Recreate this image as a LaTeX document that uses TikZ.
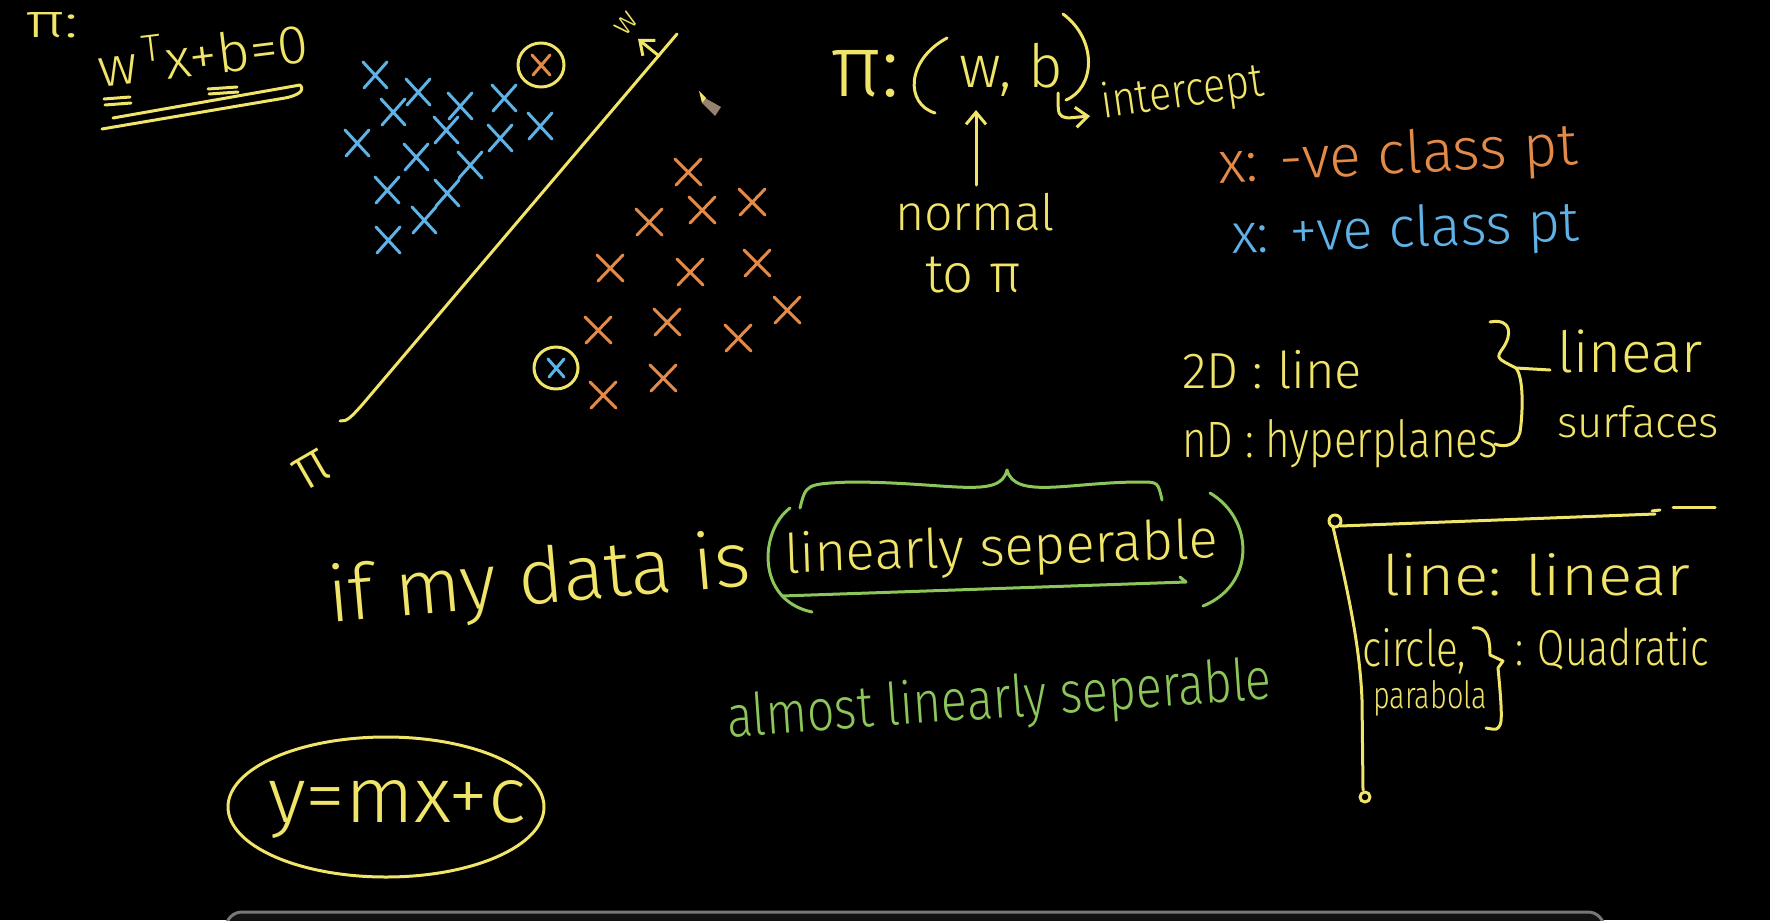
\documentclass[tikz,border=0pt]{standalone}
\usepackage{fontspec}
\IfFontExistsTF{Fira Sans Light}{\setmainfont{Fira Sans Light}}{\setmainfont{Fira Sans}}
\usepackage{graphicx}
\usetikzlibrary{arrows.meta}
\definecolor{chalkY}{RGB}{240,228,105}
\definecolor{chalkB}{RGB}{95,178,230}
\definecolor{chalkO}{RGB}{228,138,72}
\definecolor{chalkG}{RGB}{140,198,90}
\definecolor{barEdge}{RGB}{120,120,120}
\definecolor{barFill}{RGB}{18,18,18}
\definecolor{pencilBody}{RGB}{150,130,110}
\newcommand{\fw}[2]{\resizebox{#1pt}{!}{#2}}
\newcommand{\fwh}[3]{\resizebox{#1pt}{#2pt}{#3}}
\begin{document}
\begin{tikzpicture}[x=0.5pt,y=-0.5pt,
  stroke/.style={line width=1.5pt,line cap=round,line join=round},
  ys/.style={stroke,draw=chalkY},
  bs/.style={stroke,draw=chalkB},
  os/.style={stroke,draw=chalkO},
  gs/.style={stroke,draw=chalkG},
  txt/.style={inner sep=0pt,outer sep=0pt,anchor=base west},
  yt/.style={txt,text=chalkY},
  tip/.style={-{Straight Barb[length=6pt,width=10pt]}}]
\fill[black] (0,0) rectangle (1770,920);
\useasboundingbox (0,0) rectangle (1770,920);

% ---------- top-left equation ----------
\node[yt] (pieq) at (25,38) {\fwh{27}{12.5}{π:}};
\node[yt,rotate=7] (eq) at (100,88) {\fwh{106}{23}{w\textsuperscript{\,T}x+b=0}};
\draw[ys] (104,99) -- (130,97) (105,105) -- (131,103);
\draw[ys] (208,89) -- (237,87) (209,94) -- (238,92);
\draw[ys] (113,118) -- (300,85) .. controls (306,91) and (296,96) .. (285,98) -- (102,129);

% ---------- the plane pi ----------
\draw[ys] (340,421) .. controls (347,422) and (352,416) .. (362,405) -- (677,34);
\coordinate (nS) at (659,56);
\coordinate (nE) at (638,39);
\draw[ys,tip] (nS) -- (nE);
\node[text=chalkY,inner sep=0pt,rotate=50] (wn) at (626,24) {\fw{11}{w}};
\node[text=chalkY,inner sep=0pt,rotate=30] (pib) at (312,470) {\fw{18}{π}};

% ---------- blue crosses ----------
\foreach \x/\y in {375/75,393/112,418/92,460/106,504/98,357/143,446/130,500/138,540/126,416/157,470/165,387/190,447/193,388/240,424/220}
  \draw[bs] (\x,\y) ++(-12,-13) -- ++(24,26) (\x,\y) ++(12,-13) -- ++(-23,26);
% ---------- orange crosses ----------
\foreach \x/\y in {688/172,649/222,702/210,752/202,610/268,690/272,757/263,598/330,667/322,738/338,787/310,663/378,603/395}
  \draw[os] (\x,\y) ++(-13,-13) -- ++(26,26) (\x,\y) ++(13,-13) -- ++(-25,26);
% circled misclassified points
\draw[ys] (541,65) ellipse [x radius=23, y radius=22];
\draw[os] (541,65) ++(-9,-10) -- ++(18,20) (541,65) ++(9,-10) -- ++(-17,20);
\draw[ys] (556,368) ellipse [x radius=22, y radius=21];
\draw[bs] (556,368) ++(-8,-9) -- ++(16,18) (556,368) ++(8,-9) -- ++(-15,18);

% pencil cursor
\fill[pencilBody] (705,98) -- (721,107) -- (715,116) -- (702,103) -- cycle;
\fill[chalkY] (699,91) -- (706,98) -- (702,103) -- cycle;

% ---------- pi : (w,b) ----------
\node[yt] (piw) at (830,97) {\fw{35}{π:}};
\node[yt] (wb) at (959,88) {\fw{52}{w, b}};
\draw[ys] (947,38) .. controls (906,60) and (905,104) .. (935,113);
\draw[ys] (1063,14) .. controls (1098,40) and (1095,88) .. (1066,100);
\draw[ys,tip] (1058,93) .. controls (1058,116) .. (1068,118) -- (1090,116);
\node[yt,rotate=8] (icpt) at (1103,118) {\fwh{82}{18}{intercept}};
\coordinate (uS) at (976,185);
\coordinate (uE) at (976,110);
\draw[ys,tip] (uS) -- (uE);
\node[yt] (normal) at (895,230) {\fw{80}{normal}};
\node[yt] (topi) at (925,292) {\fw{48}{to π}};

% ---------- class legend ----------
\node[txt,text=chalkO,rotate=3] (neg) at (1219,183) {\fw{180}{x: -ve class pt}};
\node[txt,text=chalkB,rotate=2] (pos) at (1232,253) {\fw{174}{x: +ve class pt}};

% ---------- 2D / nD ----------
\node[yt] (twoD) at (1182,388) {\fw{90}{2D : line}};
\node[yt] (nD) at (1182,457) {\fwh{158}{19}{nD : hyperplanes}};
\draw[ys] (1490,322) .. controls (1512,318) and (1512,335) .. (1503,348)
  .. controls (1496,358) .. (1516,368) -- (1550,370);
\draw[ys] (1516,368) .. controls (1525,380) and (1522,420) .. (1520,432)
  .. controls (1517,445) and (1505,448) .. (1495,444);
\node[yt] (lin) at (1557,372) {\fw{73}{linear}};
\node[yt] (surf) at (1557,437) {\fwh{81}{16}{surfaces}};

% ---------- if my data is (linearly separable) ----------
\node[yt,rotate=5] (ifdata) at (330,622) {\fw{212}{if my data is}};
\node[yt,rotate=2] (linsep) at (785,573) {\fw{217}{linearly seperable}};
\draw[gs] (790,508) .. controls (760,530) and (755,600) .. (812,612);
\draw[gs] (1210,493) .. controls (1255,520) and (1255,585) .. (1203,606);
\draw[gs] (800,508) .. controls (806,484) .. (850,482) .. controls (950,482) and (1000,500) .. (1007,470)
  .. controls (1015,500) and (1070,482) .. (1140,482) .. controls (1158,482) .. (1162,500);
\draw[gs] (782,596) -- (1186,582) -- (1180,577);
\node[txt,text=chalkG,rotate=4] (almost) at (728,737) {\fwh{273}{22}{almost linearly seperable}};

% ---------- y = mx + c ----------
\node[yt] (ymxc) at (268,822) {\fwh{129}{21}{y=mx+c}};
\draw[ys] (386,807) ellipse [x radius=158, y radius=70];

% ---------- right box ----------
\draw[ys] (1335,521) circle [radius=6];
\draw[ys] (1340,526) -- (1655,514);
\draw[ys] (1652,511) -- (1660,510);
\draw[ys] (1673,507) -- (1715,507);
\draw[ys] (1333,527) .. controls (1350,600) and (1360,650) .. (1362,700) -- (1363,790);
\draw[ys] (1365,797) circle [radius=5];
\node[yt] (linelin) at (1382,595) {\fwh{154}{21}{line: linear}};
\node[yt] (circ) at (1362,666) {\fwh{52}{19}{circle,}};
\node[yt] (parab) at (1373,708) {\fwh{57}{14}{parabola}};
\draw[ys] (1473,628) .. controls (1488,626) and (1490,640) .. (1490,655) -- (1503,661) -- (1498,668)
  .. controls (1500,690) and (1503,720) .. (1500,725) .. controls (1497,730) .. (1486,728);
\node[yt] (quad) at (1515,665) {\fwh{97}{19}{: Quadratic}};

% ---------- bottom bar ----------
\draw[barEdge,fill=barFill,line width=1.5pt,rounded corners=8pt] (226,912) rectangle (1604,950);
\end{tikzpicture}
\end{document}
